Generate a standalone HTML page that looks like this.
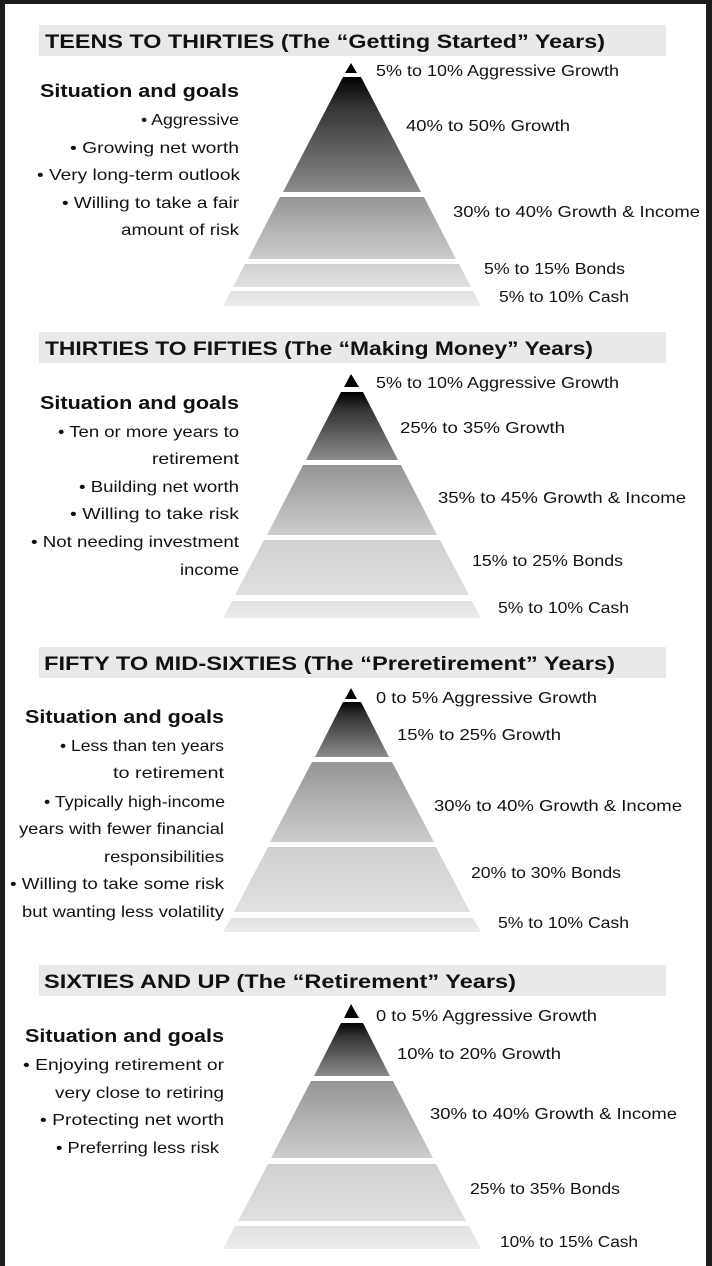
<!DOCTYPE html>
<html><head><meta charset="utf-8"><style>
html,body{margin:0;padding:0;background:#fff;}
svg{display:block;}
text{font-family:"Liberation Sans",sans-serif;fill:#111;}
.h{font-weight:bold;font-size:19px;}
.b{font-weight:bold;font-size:18px;}
.t{font-size:16px;}
</style></head><body>
<svg width="712" height="1266" viewBox="0 0 712 1266" xmlns="http://www.w3.org/2000/svg">
<defs>
<linearGradient id="g1" x1="0" y1="0" x2="0" y2="1"><stop offset="0" stop-color="#000"/><stop offset="0.25" stop-color="#333"/><stop offset="1" stop-color="#8c8c8c"/></linearGradient>
<linearGradient id="g2" x1="0" y1="0" x2="0" y2="1"><stop offset="0" stop-color="#959595"/><stop offset="1" stop-color="#cdcdcd"/></linearGradient>
<linearGradient id="g3" x1="0" y1="0" x2="0" y2="1"><stop offset="0" stop-color="#d0d0d0"/><stop offset="1" stop-color="#e0e0e0"/></linearGradient>
<linearGradient id="g4" x1="0" y1="0" x2="0" y2="1"><stop offset="0" stop-color="#e2e2e2"/><stop offset="1" stop-color="#ececec"/></linearGradient>
</defs>
<rect x="0" y="0" width="712" height="1266" fill="#fff"/>
<rect x="0" y="0" width="712" height="4" fill="#1c1c1c"/>
<rect x="0" y="0" width="5" height="1266" fill="#1c1c1c"/>
<rect x="706" y="0" width="6" height="1266" fill="#1c1c1c"/>

<!-- headers -->
<rect x="39" y="25" width="627" height="31" fill="#e9e9e9"/>
<rect x="39" y="332" width="627" height="31" fill="#e9e9e9"/>
<rect x="39" y="647" width="627" height="31" fill="#e9e9e9"/>
<rect x="39" y="965" width="627" height="31" fill="#e9e9e9"/>
<text class="h" x="45" y="48" textLength="560" lengthAdjust="spacingAndGlyphs">TEENS TO THIRTIES  (The “Getting Started” Years)</text>
<text class="h" x="45" y="355" textLength="548" lengthAdjust="spacingAndGlyphs">THIRTIES TO FIFTIES (The “Making Money” Years)</text>
<text class="h" x="44" y="670" textLength="571" lengthAdjust="spacingAndGlyphs">FIFTY TO MID-SIXTIES (The “Preretirement” Years)</text>
<text class="h" x="44" y="988" textLength="472" lengthAdjust="spacingAndGlyphs">SIXTIES AND UP (The “Retirement” Years)</text>

<!-- pyramid 1 -->
<polygon points="351,63 345,73 357,73" fill="#000"/>
<polygon points="343,77 361,77 421,192 283,192" fill="url(#g1)"/>
<polygon points="280,197 424,197 456,259 248,259" fill="url(#g2)"/>
<polygon points="245,264 459,264 471,287 233,287" fill="url(#g3)"/>
<polygon points="231,291 473,291 481,306 223,306" fill="url(#g4)"/>
<!-- pyramid 2 -->
<polygon points="351,374 344,387 359,387" fill="#000"/>
<polygon points="341,392 363,392 398,460 306,460" fill="url(#g1)"/>
<polygon points="303,465 401,465 437,535 267,535" fill="url(#g2)"/>
<polygon points="264,540 440,540 469,595 235,595" fill="url(#g3)"/>
<polygon points="232,601 472,601 481,618 223,618" fill="url(#g4)"/>
<!-- pyramid 3 -->
<polygon points="351,688 345,699 357,699" fill="#000"/>
<polygon points="343,702 361,702 389,757 315,757" fill="url(#g1)"/>
<polygon points="312,762 392,762 434,842 270,842" fill="url(#g2)"/>
<polygon points="268,847 436,847 470,912 234,912" fill="url(#g3)"/>
<polygon points="231,918 473,918 481,932 223,932" fill="url(#g4)"/>
<!-- pyramid 4 -->
<polygon points="351,1004 344,1018 359,1018" fill="#000"/>
<polygon points="341,1023 363,1023 390,1076 314,1076" fill="url(#g1)"/>
<polygon points="311,1081 393,1081 433,1158 271,1158" fill="url(#g2)"/>
<polygon points="268,1164 436,1164 466,1221 238,1221" fill="url(#g3)"/>
<polygon points="235,1226 469,1226 481,1249 223,1249" fill="url(#g4)"/>

<!-- section 1 labels -->
<text class="t" x="376" y="76" textLength="243" lengthAdjust="spacingAndGlyphs">5% to 10% Aggressive Growth</text>
<text class="t" x="406" y="131" textLength="164" lengthAdjust="spacingAndGlyphs">40% to 50% Growth</text>
<text class="t" x="453" y="217" textLength="247" lengthAdjust="spacingAndGlyphs">30% to 40% Growth &amp; Income</text>
<text class="t" x="484" y="274" textLength="141" lengthAdjust="spacingAndGlyphs">5% to 15% Bonds</text>
<text class="t" x="499" y="302" textLength="130" lengthAdjust="spacingAndGlyphs">5% to 10% Cash</text>
<text class="b" x="40" y="97" textLength="199" lengthAdjust="spacingAndGlyphs">Situation and goals</text>
<text class="t" x="141" y="125" textLength="98" lengthAdjust="spacingAndGlyphs">• Aggressive</text>
<text class="t" x="70" y="153" textLength="169" lengthAdjust="spacingAndGlyphs">• Growing net worth</text>
<text class="t" x="37" y="180" textLength="203" lengthAdjust="spacingAndGlyphs">• Very long-term outlook</text>
<text class="t" x="62" y="208" textLength="177" lengthAdjust="spacingAndGlyphs">• Willing to take a fair</text>
<text class="t" x="121" y="235" textLength="118" lengthAdjust="spacingAndGlyphs">amount of risk</text>

<!-- section 2 labels -->
<text class="t" x="376" y="388" textLength="243" lengthAdjust="spacingAndGlyphs">5% to 10% Aggressive Growth</text>
<text class="t" x="400" y="433" textLength="165" lengthAdjust="spacingAndGlyphs">25% to 35% Growth</text>
<text class="t" x="438" y="503" textLength="248" lengthAdjust="spacingAndGlyphs">35% to 45% Growth &amp; Income</text>
<text class="t" x="472" y="566" textLength="151" lengthAdjust="spacingAndGlyphs">15% to 25% Bonds</text>
<text class="t" x="498" y="613" textLength="131" lengthAdjust="spacingAndGlyphs">5% to 10% Cash</text>
<text class="b" x="40" y="409" textLength="199" lengthAdjust="spacingAndGlyphs">Situation and goals</text>
<text class="t" x="58" y="437" textLength="181" lengthAdjust="spacingAndGlyphs">• Ten or more years to</text>
<text class="t" x="152" y="464" textLength="87" lengthAdjust="spacingAndGlyphs">retirement</text>
<text class="t" x="79" y="492" textLength="160" lengthAdjust="spacingAndGlyphs">• Building net worth</text>
<text class="t" x="70" y="519" textLength="169" lengthAdjust="spacingAndGlyphs">• Willing  to take risk</text>
<text class="t" x="31" y="547" textLength="208" lengthAdjust="spacingAndGlyphs">• Not needing investment</text>
<text class="t" x="180" y="575" textLength="59" lengthAdjust="spacingAndGlyphs">income</text>

<!-- section 3 labels -->
<text class="t" x="376" y="703" textLength="221" lengthAdjust="spacingAndGlyphs">0 to 5% Aggressive Growth</text>
<text class="t" x="397" y="740" textLength="164" lengthAdjust="spacingAndGlyphs">15% to 25% Growth</text>
<text class="t" x="434" y="811" textLength="248" lengthAdjust="spacingAndGlyphs">30% to 40% Growth &amp; Income</text>
<text class="t" x="471" y="878" textLength="150" lengthAdjust="spacingAndGlyphs">20% to 30% Bonds</text>
<text class="t" x="498" y="928" textLength="131" lengthAdjust="spacingAndGlyphs">5% to 10% Cash</text>
<text class="b" x="25" y="723" textLength="199" lengthAdjust="spacingAndGlyphs">Situation and goals</text>
<text class="t" x="60" y="751" textLength="164" lengthAdjust="spacingAndGlyphs">• Less than ten years</text>
<text class="t" x="113" y="778" textLength="111" lengthAdjust="spacingAndGlyphs">to retirement</text>
<text class="t" x="44" y="807" textLength="181" lengthAdjust="spacingAndGlyphs">• Typically high-income</text>
<text class="t" x="19" y="834" textLength="205" lengthAdjust="spacingAndGlyphs">years with fewer financial</text>
<text class="t" x="104" y="862" textLength="120" lengthAdjust="spacingAndGlyphs">responsibilities</text>
<text class="t" x="10" y="889" textLength="214" lengthAdjust="spacingAndGlyphs">• Willing to take some risk</text>
<text class="t" x="22" y="917" textLength="202" lengthAdjust="spacingAndGlyphs">but wanting less volatility</text>

<!-- section 4 labels -->
<text class="t" x="376" y="1021" textLength="221" lengthAdjust="spacingAndGlyphs">0 to 5% Aggressive Growth</text>
<text class="t" x="397" y="1059" textLength="164" lengthAdjust="spacingAndGlyphs">10% to 20% Growth</text>
<text class="t" x="430" y="1119" textLength="247" lengthAdjust="spacingAndGlyphs">30% to 40% Growth &amp; Income</text>
<text class="t" x="470" y="1194" textLength="150" lengthAdjust="spacingAndGlyphs">25% to 35% Bonds</text>
<text class="t" x="500" y="1247" textLength="138" lengthAdjust="spacingAndGlyphs">10% to 15% Cash</text>
<text class="b" x="25" y="1042" textLength="199" lengthAdjust="spacingAndGlyphs">Situation and goals</text>
<text class="t" x="23" y="1070" textLength="201" lengthAdjust="spacingAndGlyphs">• Enjoying retirement or</text>
<text class="t" x="55" y="1098" textLength="169" lengthAdjust="spacingAndGlyphs">very close to retiring</text>
<text class="t" x="40" y="1125" textLength="184" lengthAdjust="spacingAndGlyphs">• Protecting net worth</text>
<text class="t" x="56" y="1153" textLength="163" lengthAdjust="spacingAndGlyphs">• Preferring less risk</text>
</svg>
</body></html>
